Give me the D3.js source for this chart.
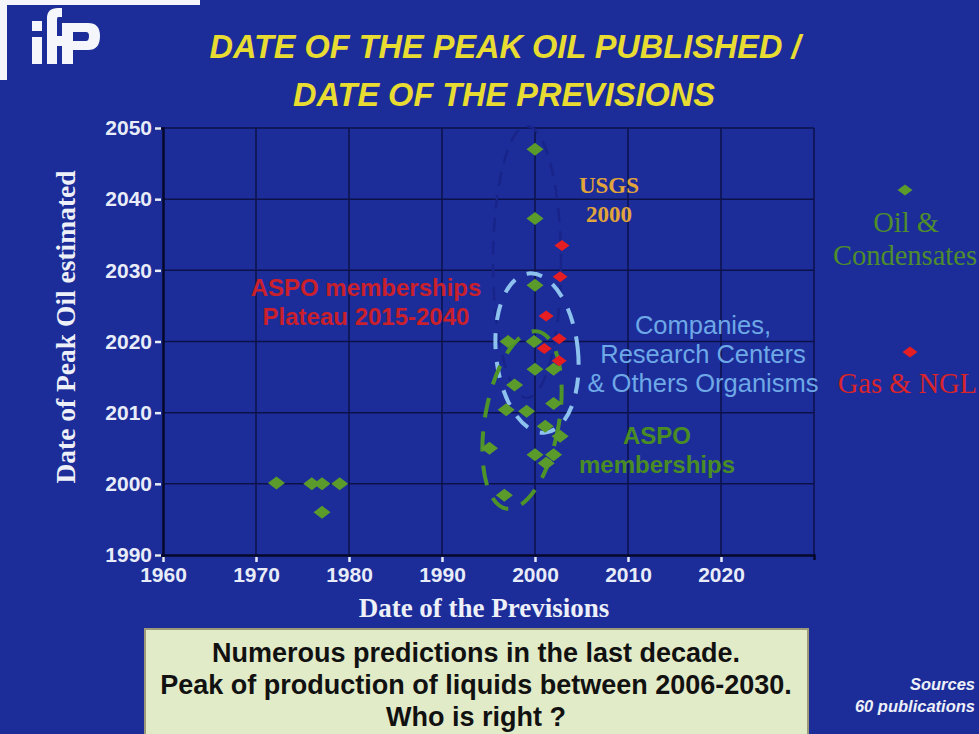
<!DOCTYPE html>
<html>
<head>
<meta charset="utf-8">
<script src="https://cdn.jsdelivr.net/npm/d3@7"></script>
<style>
  body { margin: 0; background: #1c2d9a; }
  svg { display: block; }
</style>
</head>
<body>
<div id="chart-area"></div>
<script>
// data: [date of prevision, date of peak]
var oilPrevision = [2000, 2000, 2000, 1972.2, 1976.0, 1977.1, 1979.0, 1977.1,
    1997.1, 1999.9, 2000.0, 2002.0, 1997.8, 1996.9, 1999.1, 2002.0, 2001.1,
    2002.7, 1995.1, 2000.0, 2001.2, 2002.0, 1996.7];
var oilPeak = [2047.0, 2037.3, 2027.9, 2000.1, 2000.0, 2000.0, 2000.0, 1996.0,
    2020.0, 2020.0, 2016.1, 2016.1, 2013.9, 2010.4, 2010.2, 2011.3, 2008.1,
    2006.7, 2005.0, 2004.1, 2002.9, 2004.1, 1998.4];
var gasPrevision = [2002.9, 2002.7, 2001.2, 2002.6, 2001.0, 2002.6];
var gasPeak = [2033.5, 2029.1, 2023.6, 2020.4, 2019.0, 2017.3];

var xTicks = [1960, 1970, 1980, 1990, 2000, 2010, 2020];
var yTicks = [1990, 2000, 2010, 2020, 2030, 2040, 2050];

var W = 979, H = 734;
var plot = { left: 163, right: 814, top: 128, bottom: 555 };

var svg = d3.select("#chart-area")
    .append("svg")
        .attr("width", W)
        .attr("height", H);

svg.append("rect")
    .attr("width", W).attr("height", H)
    .attr("fill", "#1c2d9a");

// logo
var logo = svg.append("g").attr("fill", "#f4f6fb");
logo.append("rect").attr("x", 0).attr("y", 0).attr("width", 200).attr("height", 5);
logo.append("rect").attr("x", 0).attr("y", 0).attr("width", 7).attr("height", 80);
logo.append("rect").attr("x", 32).attr("y", 21).attr("width", 10).attr("height", 10);
logo.append("rect").attr("x", 32).attr("y", 37).attr("width", 10).attr("height", 27);
logo.append("path").attr("d", "M47,64 L47,18 Q47,8 58,8 L62,8 L62,17 L58,17 Q57,17 57,20 L57,64 Z");
logo.append("rect").attr("x", 47).attr("y", 36).attr("width", 15).attr("height", 10);
logo.append("path")
    .attr("fill-rule", "evenodd")
    .attr("d", "M62,23 L88,23 Q100,23 100,36 Q100,50 88,50 L73,50 L73,64 L62,64 Z M73,32 L86,32 Q89,32 89,36 Q89,41 86,41 L73,41 Z");

// title
var title = svg.append("g")
    .attr("fill", "#e8dc32")
    .attr("font-family", "Liberation Sans, Arial, sans-serif")
    .attr("font-weight", "bold")
    .attr("font-style", "italic")
    .attr("font-size", "32.5px")
    .attr("text-anchor", "middle");
title.append("text").attr("x", 505).attr("y", 58).text("DATE OF THE PEAK OIL PUBLISHED /");
title.append("text").attr("x", 504).attr("y", 106).text("DATE OF THE PREVISIONS");

var x = d3.scaleLinear()
    .domain([1960, 2030])
    .range([plot.left, plot.right]);

var y = d3.scaleLinear()
    .domain([1990, 2050])
    .range([plot.bottom, plot.top]);

// grid
var grid = svg.append("g").attr("stroke", "#0c1248").attr("stroke-width", 1.5);
grid.selectAll(".vg")
    .data(xTicks.concat([2030]).slice(1))
    .enter().append("line")
        .attr("x1", function(d){ return x(d); })
        .attr("x2", function(d){ return x(d); })
        .attr("y1", plot.top)
        .attr("y2", plot.bottom);
grid.selectAll(".hg")
    .data(yTicks.slice(1))
    .enter().append("line")
        .attr("x1", plot.left)
        .attr("x2", plot.right)
        .attr("y1", function(d){ return y(d); })
        .attr("y2", function(d){ return y(d); });

// axes
var xAxisCall = d3.axisBottom(x)
    .tickValues(xTicks)
    .tickSize(5)
    .tickPadding(7)
    .tickFormat(d3.format("d"));
var xAxis = svg.append("g")
    .attr("class", "x axis")
    .attr("transform", "translate(0, " + plot.bottom + ")")
    .call(xAxisCall);

var yAxisCall = d3.axisLeft(y)
    .tickValues(yTicks)
    .tickSize(6)
    .tickPadding(5)
    .tickFormat(d3.format("d"));
var yAxis = svg.append("g")
    .attr("class", "y axis")
    .attr("transform", "translate(" + plot.left + ", 0)")
    .call(yAxisCall);

[xAxis, yAxis].forEach(function(a){
    a.select(".domain").attr("stroke", "#05082a").attr("stroke-width", 2.5);
    a.selectAll(".tick line").attr("stroke", "#e8ecf8").attr("stroke-width", 2.5);
    a.selectAll(".tick text")
        .attr("fill", "#e8ecf8")
        .attr("font-family", "Liberation Sans, Arial, sans-serif")
        .attr("font-weight", "bold")
        .attr("font-size", "21px");
});
xAxis.selectAll(".tick line").attr("transform", "translate(0, 2)");
yAxis.selectAll(".tick line").attr("transform", "translate(-2, 0)");

// axis labels
svg.append("text")
    .attr("x", 484)
    .attr("y", 617)
    .attr("fill", "#eef0f8")
    .attr("font-family", "Liberation Serif, Times New Roman, serif")
    .attr("font-weight", "bold")
    .attr("font-size", "27px")
    .attr("text-anchor", "middle")
    .text("Date of the Previsions");

svg.append("text")
    .attr("x", -327)
    .attr("y", 75)
    .attr("fill", "#eef0f8")
    .attr("font-family", "Liberation Serif, Times New Roman, serif")
    .attr("font-weight", "bold")
    .attr("font-size", "27.5px")
    .attr("text-anchor", "middle")
    .attr("transform", "rotate(-90)")
    .text("Date of Peak Oil estimated");

// ellipses
svg.append("ellipse")
    .attr("cx", 527).attr("cy", 262).attr("rx", 34).attr("ry", 136)
    .attr("fill", "none")
    .attr("stroke", "#18248a")
    .attr("stroke-width", 2.5)
    .attr("stroke-dasharray", "14 9");

svg.append("ellipse")
    .attr("transform", "translate(537, 353) rotate(-6)")
    .attr("rx", 41).attr("ry", 80)
    .attr("fill", "none")
    .attr("stroke", "#8ec2ee")
    .attr("stroke-width", 4)
    .attr("stroke-dasharray", "16 13");

svg.append("ellipse")
    .attr("transform", "translate(522, 420) rotate(10)")
    .attr("rx", 37).attr("ry", 90)
    .attr("fill", "none")
    .attr("stroke", "#4f9428")
    .attr("stroke-width", 4)
    .attr("stroke-dasharray", "20 14");

function diamond(w, h) {
    return "M0," + (-h / 2) + "L" + (w / 2) + ",0L0," + (h / 2) + "L" + (-w / 2) + ",0Z";
}

// points
var oil = oilPrevision.map(function(d, i){ return { x: d, y: oilPeak[i] }; });
var gas = gasPrevision.map(function(d, i){ return { x: d, y: gasPeak[i] }; });

svg.selectAll(".oil")
    .data(oil)
    .enter().append("path")
        .attr("class", "oil")
        .attr("d", diamond(17, 13))
        .attr("transform", function(d){ return "translate(" + x(d.x) + "," + y(d.y) + ")"; })
        .attr("fill", "#5b9b2c");

svg.selectAll(".gas")
    .data(gas)
    .enter().append("path")
        .attr("class", "gas")
        .attr("d", diamond(15, 11))
        .attr("transform", function(d){ return "translate(" + x(d.x) + "," + y(d.y) + ")"; })
        .attr("fill", "#e41e22");

// annotations
function lines(g, arr, x0, y0, dy) {
    arr.forEach(function(t, i){
        g.append("text").attr("x", x0).attr("y", y0 + i * dy).text(t);
    });
}

var usgs = svg.append("g")
    .attr("fill", "#e2a53a")
    .attr("font-family", "Liberation Serif, Times New Roman, serif")
    .attr("font-weight", "bold")
    .attr("font-size", "23px")
    .attr("text-anchor", "middle");
lines(usgs, ["USGS", "2000"], 609, 193, 29);

var aspoRed = svg.append("g")
    .attr("fill", "#c9202c")
    .attr("font-family", "Liberation Sans, Arial, sans-serif")
    .attr("font-weight", "bold")
    .attr("font-size", "24px")
    .attr("text-anchor", "middle");
lines(aspoRed, ["ASPO memberships", "Plateau 2015-2040"], 366, 296, 29);

var comp = svg.append("g")
    .attr("fill", "#6ea8e6")
    .attr("font-family", "Liberation Sans, Arial, sans-serif")
    .attr("font-size", "25.5px")
    .attr("text-anchor", "middle");
lines(comp, ["Companies,", "Research Centers", "& Others Organisms"], 703, 334, 29);

var aspoGreen = svg.append("g")
    .attr("fill", "#4a8c24")
    .attr("font-family", "Liberation Sans, Arial, sans-serif")
    .attr("font-weight", "bold")
    .attr("font-size", "24px")
    .attr("text-anchor", "middle");
lines(aspoGreen, ["ASPO", "memberships"], 657, 444, 29);

// legend
svg.append("path").attr("d", diamond(15, 11))
    .attr("transform", "translate(905, 190)").attr("fill", "#5b9b2c");
var legOil = svg.append("g")
    .attr("fill", "#4e8c2c")
    .attr("font-family", "Liberation Serif, Times New Roman, serif")
    .attr("font-size", "28.5px");
legOil.append("text").attr("x", 906).attr("y", 232)
    .attr("text-anchor", "middle").text("Oil &");
legOil.append("text").attr("x", 977).attr("y", 265)
    .attr("text-anchor", "end").text("Condensates");

svg.append("path").attr("d", diamond(15, 11))
    .attr("transform", "translate(910, 352)").attr("fill", "#e41e22");
svg.append("text")
    .attr("x", 977).attr("y", 393)
    .attr("fill", "#d8242a")
    .attr("font-family", "Liberation Serif, Times New Roman, serif")
    .attr("font-size", "28.5px")
    .attr("text-anchor", "end")
    .text("Gas & NGL");

// conclusion box
svg.append("rect")
    .attr("x", 145).attr("y", 629)
    .attr("width", 663).attr("height", 110)
    .attr("fill", "#e2ebc8")
    .attr("stroke", "#9c9a78")
    .attr("stroke-width", 2);
var box = svg.append("g")
    .attr("fill", "#111111")
    .attr("font-family", "Liberation Sans, Arial, sans-serif")
    .attr("font-weight", "bold")
    .attr("font-size", "27px")
    .attr("text-anchor", "middle");
lines(box, ["Numerous predictions in the last decade.",
    "Peak of production of liquids between 2006-2030.",
    "Who is right ?"], 476, 662, 32);

var src = svg.append("g")
    .attr("fill", "#eef0f8")
    .attr("font-family", "Liberation Sans, Arial, sans-serif")
    .attr("font-weight", "bold")
    .attr("font-style", "italic")
    .attr("font-size", "16.5px")
    .attr("text-anchor", "end");
lines(src, ["Sources", "60 publications"], 975, 690, 22);
</script>
</body>
</html>
